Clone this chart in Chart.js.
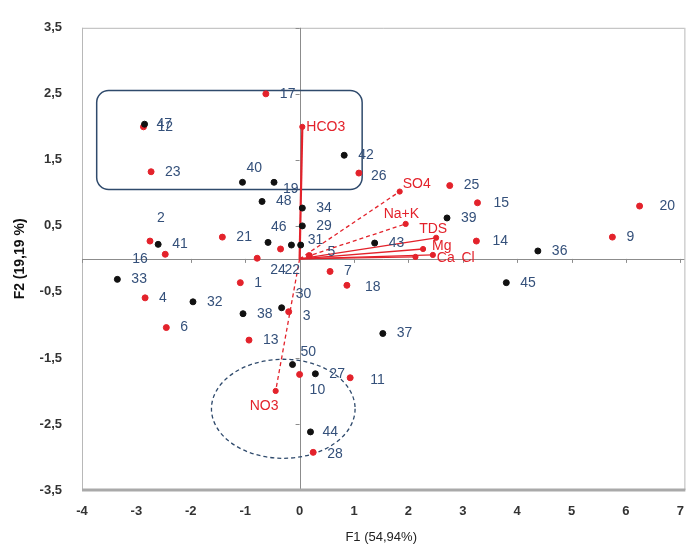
<!DOCTYPE html>
<html>
<head>
<meta charset="utf-8">
<script src="https://cdn.jsdelivr.net/npm/chart.js@4.4.1/dist/chart.umd.min.js"></script>
<style>
  html, body { margin: 0; padding: 0; background: #ffffff; }
  #wrap { width: 698px; height: 549px; }
</style>
</head>
<body>
<div id="wrap"><canvas id="c" width="698" height="549"></canvas></div>
<script>
// ---- data ----
const blackLabels = ["47","40","19","48","34","29","46","","31","41","33","32","38","30","50","27","44","37","45","36","39","42","43"];
const blackX = [-2.85,-1.05,-0.47,-0.69,0.05,0.05,-0.58,-0.15,0.02,-2.6,-3.35,-1.96,-1.04,-0.33,-0.13,0.29,0.2,1.53,3.8,4.38,2.71,0.82,1.38];
const blackY = [2.04,1.16,1.16,0.87,0.77,0.5,0.25,0.21,0.21,0.22,-0.31,-0.65,-0.83,-0.74,-1.6,-1.74,-2.62,-1.13,-0.36,0.12,0.62,1.57,0.24];

const redLabels = ["17","12","23","21","2","16","4","6","1","13","3","24","22","7","18","10","11","28","20","9","15","25","14","26","5"];
const redX = [-0.62,-2.87,-2.73,-1.42,-2.75,-2.47,-2.84,-2.45,-1.09,-0.93,-0.2,-0.78,-0.35,0.56,0.87,0.0,0.93,0.25,6.25,5.75,3.27,2.76,3.25,1.09,0.18];
const redY = [2.5,2.0,1.32,0.33,0.27,0.07,-0.59,-1.04,-0.36,-1.23,-0.8,0.01,0.15,-0.19,-0.4,-1.75,-1.8,-2.93,0.8,0.33,0.85,1.11,0.27,1.3,0.05];

const varNames = ["HCO3","SO4","Na+K","TDS","Mg","Cl","Ca","NO3"];
const varX = [0.05,1.84,1.95,2.51,2.27,2.13,2.45,-0.44];
const varY = [2.0,1.02,0.53,0.32,0.15,0.03,0.06,-2.0];
const varDashed = [false,true,true,false,false,false,false,true];

const xTicks = [-4,-3,-2,-1,0,1,2,3,4,5,6,7];
const yTicks = [-3.5,-2.5,-1.5,-0.5,0.5,1.5,2.5,3.5];

// ---- styling ----
const RED = "#e3222b";
const BLACK = "#111111";
const LBLUE = "#34507a";
const SHAPE = "#2f4a6c";
const FONT = "'Liberation Sans', Arial, sans-serif";

// label offsets (px) relative to point: [dx, dy]
const labelOffsets = {
  "2":[7,-23], "16":[-33,5], "24":[13,12], "22":[4,21], "30":[14,-14], "50":[8,-12],
  "10":[10,16], "28":[14,2], "44":[12,0], "31":[7,-5], "19":[9,7], "40":[4,-14],
  "46":[3,-15], "47":[12,0], "12":[14,0], "5":[18,-3], "20":[20,0], "11":[20,2], "18":[18,2],
  "26":[12,3], "3":[14,4], "15":[16,0], "14":[16,0],
  "HCO3":[4,0], "SO4":[3,-7], "Na+K":[-22,-10], "TDS":[-17,-9], "Mg":[9,-3],
  "Ca":[4,3], "Cl":[46,1], "NO3":[-26,15]
};

const fmt = v => String(v).replace(".", ",");

function pts(xs, ys) { return xs.map((x, i) => ({ x: x, y: ys[i] })); }

const datasets = [];
// variable vectors (lines from origin)
varNames.forEach((n, i) => {
  datasets.push({
    type: "scatter", label: "vec-" + n,
    data: [{ x: 0, y: 0 }, { x: varX[i], y: varY[i] }],
    showLine: true, borderColor: RED, borderWidth: n === "HCO3" ? 2.2 : 1.3,
    borderDash: varDashed[i] ? [4, 3] : [],
    pointRadius: 0, order: 3
  });
});
datasets.push({ type: "scatter", label: "black", data: pts(blackX, blackY), backgroundColor: BLACK, borderColor: BLACK, pointRadius: 3, order: 1, labelsArr: blackLabels, labelColor: LBLUE });
datasets.push({ type: "scatter", label: "red", data: pts(redX, redY), backgroundColor: RED, borderColor: RED, pointRadius: 3, order: 2, labelsArr: redLabels, labelColor: LBLUE });
datasets.push({ type: "scatter", label: "vars", data: pts(varX, varY), backgroundColor: RED, borderColor: RED, pointRadius: 2.6, order: 0, labelsArr: varNames, labelColor: RED });

const framePlugin = {
  id: "frame",
  beforeDatasetsDraw(chart) {
    const { ctx, chartArea: a, scales } = chart;
    const x0 = scales.x.getPixelForValue(0), y0 = scales.y.getPixelForValue(0);
    ctx.save();
    ctx.strokeStyle = "#b8b8b8"; ctx.lineWidth = 1;
    ctx.beginPath();
    ctx.moveTo(a.left, a.top + 0.5); ctx.lineTo(a.right + 4, a.top + 0.5);
    ctx.moveTo(a.left + 0.5, a.top); ctx.lineTo(a.left + 0.5, a.bottom);
    ctx.moveTo(a.right + 4.5, a.top); ctx.lineTo(a.right + 4.5, a.bottom);
    ctx.stroke();
    ctx.strokeStyle = "#8c8c8c";
    ctx.beginPath();
    ctx.moveTo(Math.round(x0) + 0.5, a.top); ctx.lineTo(Math.round(x0) + 0.5, a.bottom);
    ctx.moveTo(a.left, Math.round(y0) + 0.5); ctx.lineTo(a.right + 4, Math.round(y0) + 0.5);
    xTicks.forEach(v => { const p = Math.round(scales.x.getPixelForValue(v)) + 0.5; ctx.moveTo(p, y0); ctx.lineTo(p, y0 + 4); });
    yTicks.forEach(v => { const p = Math.round(scales.y.getPixelForValue(v)) + 0.5; ctx.moveTo(x0 - 4, p); ctx.lineTo(x0, p); });
    ctx.stroke();
    ctx.strokeStyle = "#a9a9a9"; ctx.lineWidth = 3;
    ctx.beginPath(); ctx.moveTo(a.left, a.bottom); ctx.lineTo(a.right + 5, a.bottom); ctx.stroke();

    // rounded rectangle grouping
    const rx1 = scales.x.getPixelForValue(-3.73), rx2 = scales.x.getPixelForValue(1.15);
    const ry1 = scales.y.getPixelForValue(2.55), ry2 = scales.y.getPixelForValue(1.05);
    ctx.strokeStyle = SHAPE; ctx.lineWidth = 1.5;
    ctx.beginPath(); ctx.roundRect(rx1, ry1, rx2 - rx1, ry2 - ry1, 12); ctx.stroke();
    // dashed ellipse grouping
    const ex = scales.x.getPixelForValue(-0.3), ey = scales.y.getPixelForValue(-2.27);
    const erx = scales.x.getPixelForValue(1.02) - ex, ery = scales.y.getPixelForValue(-3.02) - ey;
    ctx.setLineDash([4, 3]); ctx.lineWidth = 1.3;
    ctx.beginPath(); ctx.ellipse(ex, ey, Math.abs(erx), Math.abs(ery), 0, 0, Math.PI * 2); ctx.stroke();
    ctx.restore();
  },
  afterDatasetsDraw(chart) {
    const { ctx } = chart;
    ctx.save();
    ctx.font = "14px " + FONT;
    ctx.textBaseline = "middle"; ctx.textAlign = "left";
    chart.data.datasets.forEach((ds, di) => {
      if (!ds.labelsArr) return;
      const meta = chart.getDatasetMeta(di);
      ctx.fillStyle = ds.labelColor;
      meta.data.forEach((el, i) => {
        const t = ds.labelsArr[i]; if (!t) return;
        const off = labelOffsets[t] || [14, 0];
        ctx.fillText(t, el.x + off[0], el.y + off[1]);
      });
    });
    ctx.restore();
  }
};

new Chart(document.getElementById("c"), {
  data: { datasets },
  options: {
    responsive: false, animation: false,
    layout: { padding: { top: 16, right: 11, left: 0, bottom: 0 } },
    plugins: { legend: { display: false }, tooltip: { enabled: false } },
    scales: {
      x: {
        type: "linear", min: -4, max: 7,
        afterBuildTicks: s => { s.ticks = xTicks.map(v => ({ value: v })); },
        afterFit: s => { s.height = 59; },
        grid: { display: false, drawTicks: false },
        border: { display: false },
        ticks: { padding: 14, color: "#333", font: { size: 13, weight: "bold", family: FONT }, callback: v => fmt(v) },
        title: { display: true, text: "F1 (54,94%)", color: "#222", padding: { top: 2 }, font: { size: 13, family: FONT } }
      },
      y: {
        type: "linear", min: -3.5, max: 3.5,
        afterBuildTicks: s => { s.ticks = yTicks.map(v => ({ value: v })); },
        afterFit: s => { s.width = 82; },
        grid: { display: false, drawTicks: false },
        border: { display: false },
        ticks: { padding: 20, color: "#333", font: { size: 13, weight: "bold", family: FONT }, callback: v => fmt(v) },
        title: { display: true, text: "F2 (19,19 %)", color: "#111", padding: { top: 12, bottom: 0 }, font: { size: 14, weight: "bold", family: FONT } }
      }
    }
  },
  plugins: [framePlugin]
});
</script>
</body>
</html>
